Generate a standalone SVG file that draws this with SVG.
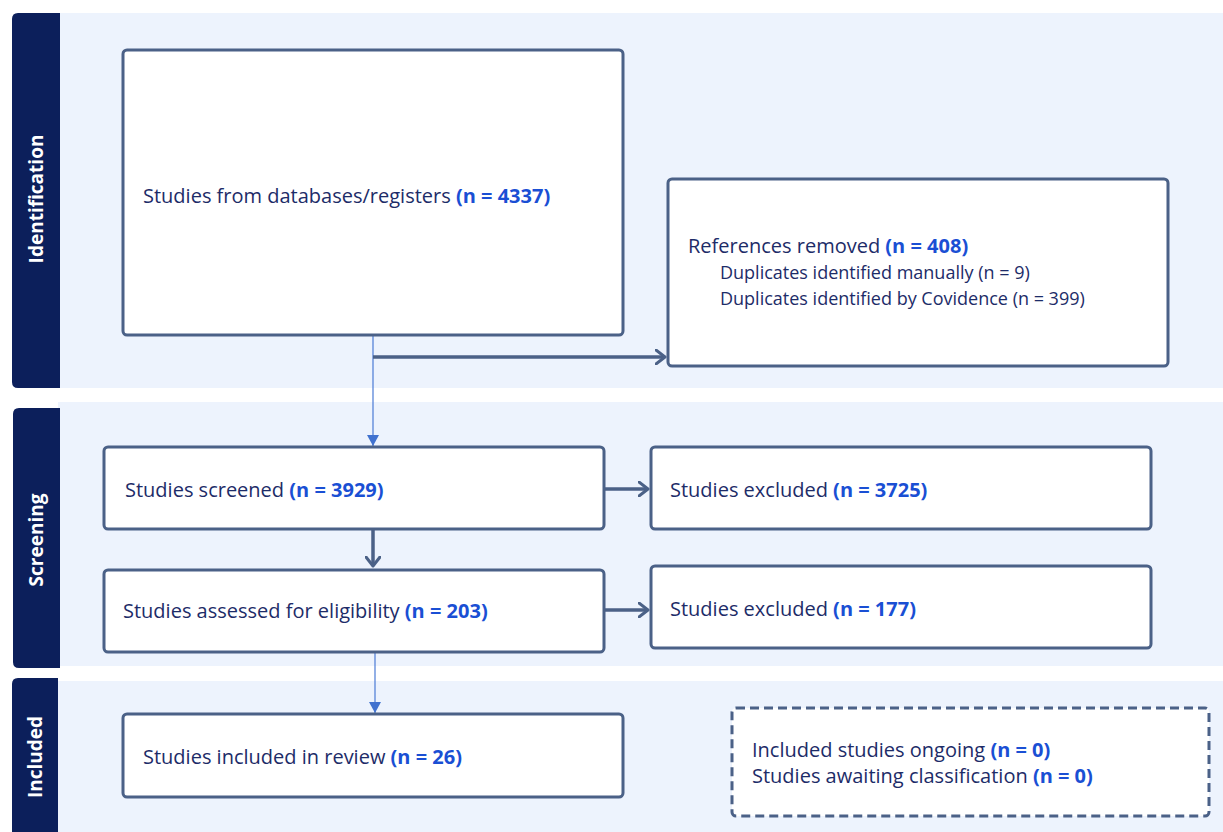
<svg xmlns="http://www.w3.org/2000/svg" width="1223" height="832" viewBox="0 0 1223 832">
<style>
.band{fill:#edf3fd}
.side{fill:#0c1f5b}
.sl{font-family:"Open Sans","Noto Sans",sans-serif;font-weight:bold;font-size:19px;fill:#ffffff;text-anchor:middle}
.box{fill:#ffffff;stroke:#4b6187;stroke-width:3}
.dash{fill:#ffffff;stroke:#4b6187;stroke-width:3;stroke-dasharray:9 5}
.t{font-family:"Open Sans","Noto Sans",sans-serif;font-size:20px;fill:#1d2c68}
.s{font-size:18px}
.n{font-weight:bold;fill:#1a4fd4}
.thick{stroke:#4b6187;stroke-width:3.5;fill:none}
.thin{stroke:#4a7bd6;stroke-width:1.2;fill:none}
</style>
<defs>
<marker id="chev" markerWidth="12" markerHeight="16" refX="10" refY="8" orient="auto" markerUnits="userSpaceOnUse">
<path d="M1,1 L10,8 L1,15" fill="none" stroke="#4b6187" stroke-width="3" stroke-linecap="round" stroke-linejoin="round"/>
</marker>
<marker id="tri" markerWidth="14" markerHeight="12" refX="7" refY="11" orient="0" markerUnits="userSpaceOnUse">
<path d="M1,0 L13,0 L7,11 Z" fill="#4172cf"/>
</marker>
</defs>
<g id="bands">
<rect class="band" x="58" y="13" width="1165" height="375"/>
<rect class="band" x="58" y="402" width="1165" height="264"/>
<rect class="band" x="58" y="681" width="1165" height="151"/>
</g>
<g id="lane-identification">
<path class="side" d="M18,13 H60 V388 H18 Q12,388 12,382 V19 Q12,13 18,13 Z"/>
<text class="sl" transform="translate(43,199) rotate(-90)">Identification</text>
</g>
<g id="lane-screening">
<path class="side" d="M19,408 H60 V668 H19 Q13,668 13,662 V414 Q13,408 19,408 Z"/>
<text class="sl" transform="translate(43,540) rotate(-90)">Screening</text>
</g>
<g id="lane-included">
<path class="side" d="M18,678 H58 V832 H12 V684 Q12,678 18,678 Z"/>
<text class="sl" transform="translate(42,757) rotate(-90)">Included</text>
</g>
<g id="connectors">
<line class="thin" x1="373" y1="336" x2="373" y2="446" marker-end="url(#tri)"/>
<line class="thick" x1="373" y1="357" x2="665" y2="357" marker-end="url(#chev)"/>
<line class="thick" x1="605" y1="489" x2="648" y2="489" marker-end="url(#chev)"/>
<line class="thick" x1="373" y1="530" x2="373" y2="566" marker-end="url(#chev)"/>
<line class="thick" x1="605" y1="610" x2="648" y2="610" marker-end="url(#chev)"/>
<line class="thin" x1="375" y1="653" x2="375" y2="713" marker-end="url(#tri)"/>
</g>
<g id="node-databases">
<rect class="box" x="123" y="50" width="500" height="285" rx="4"/>
<text class="t" x="143" y="203">Studies from databases/registers <tspan class="n">(n = 4337)</tspan></text>
</g>
<g id="node-removed">
<rect class="box" x="668" y="179" width="500" height="187" rx="4"/>
<text class="t" x="688" y="253">References removed <tspan class="n">(n = 408)</tspan></text>
<text class="t s" x="720" y="279">Duplicates identified manually (n = 9)</text>
<text class="t s" x="720" y="305">Duplicates identified by Covidence (n = 399)</text>
</g>
<g id="node-screened">
<rect class="box" x="104" y="447" width="500" height="82" rx="4"/>
<text class="t" x="125" y="497">Studies screened <tspan class="n">(n = 3929)</tspan></text>
</g>
<g id="node-excluded1">
<rect class="box" x="651" y="447" width="500" height="82" rx="4"/>
<text class="t" x="670" y="497">Studies excluded <tspan class="n">(n = 3725)</tspan></text>
</g>
<g id="node-eligibility">
<rect class="box" x="104" y="570" width="500" height="82" rx="4"/>
<text class="t" x="123" y="618">Studies assessed for eligibility <tspan class="n">(n = 203)</tspan></text>
</g>
<g id="node-excluded2">
<rect class="box" x="651" y="566" width="500" height="82" rx="4"/>
<text class="t" x="670" y="616">Studies excluded <tspan class="n">(n = 177)</tspan></text>
</g>
<g id="node-included">
<rect class="box" x="123" y="714" width="500" height="83" rx="4"/>
<text class="t" x="143" y="764">Studies included in review <tspan class="n">(n = 26)</tspan></text>
</g>
<g id="node-ongoing">
<rect class="dash" x="732" y="708" width="477" height="108" rx="4"/>
<text class="t" x="752" y="757">Included studies ongoing <tspan class="n">(n = 0)</tspan></text>
<text class="t" x="752" y="783">Studies awaiting classification <tspan class="n">(n = 0)</tspan></text>
</g>
</svg>
